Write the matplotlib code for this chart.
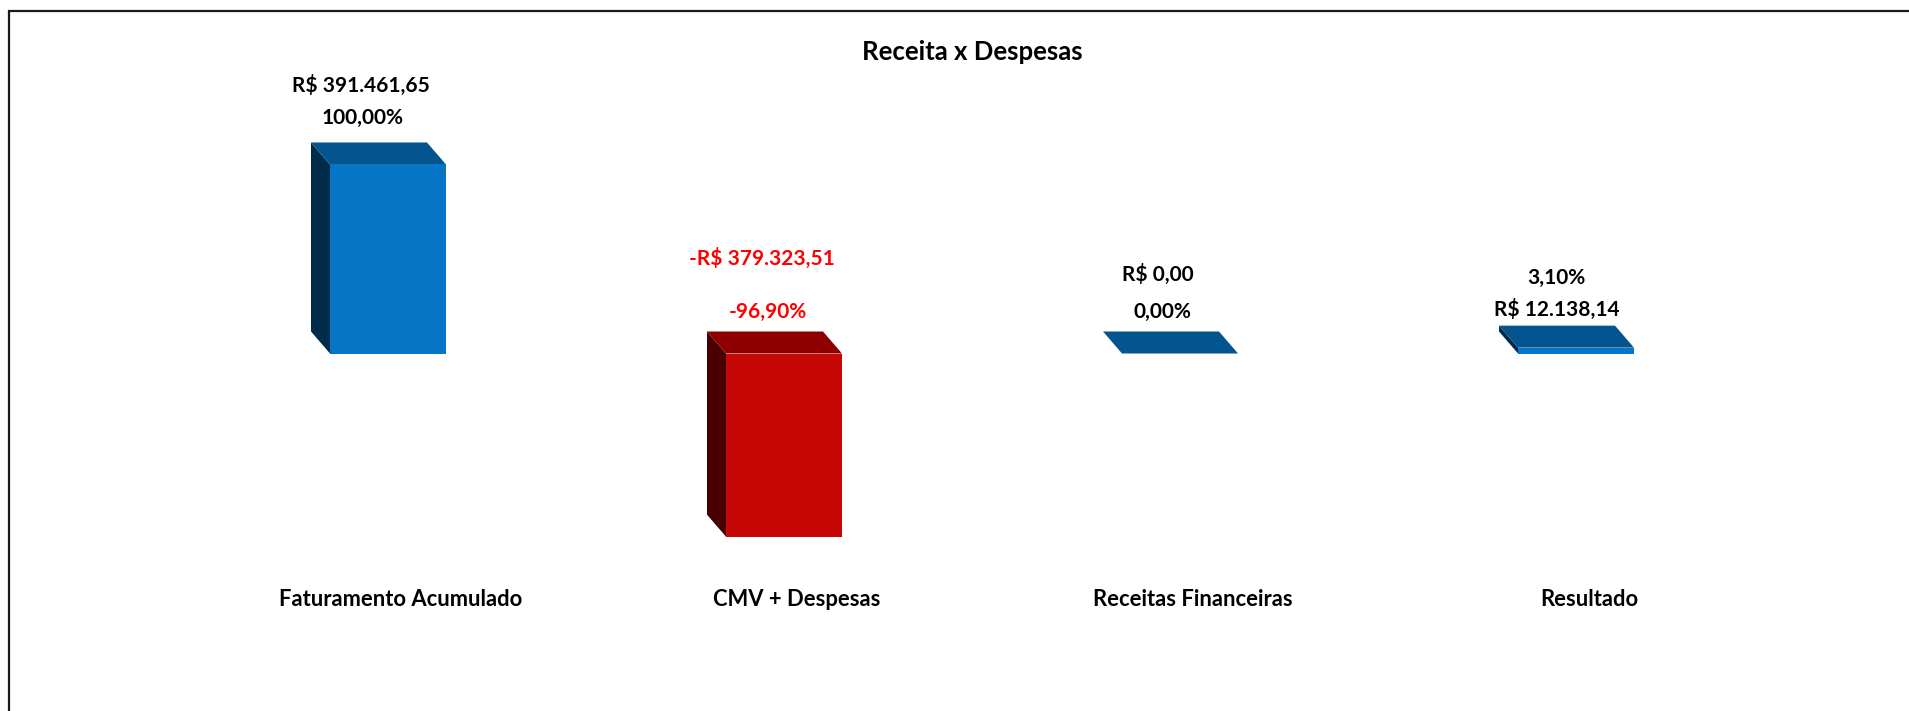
import numpy as np
import matplotlib
matplotlib.use("Agg")
import matplotlib.pyplot as plt
from matplotlib.patches import Polygon, Rectangle
from matplotlib.transforms import blended_transform_factory

plt.rcParams['font.family'] = ['Lato', 'DejaVu Sans']
plt.rcParams['font.weight'] = 'bold'

categorias = ['Faturamento Acumulado', 'CMV + Despesas', 'Receitas Financeiras', 'Resultado']
valores = [391461.65, -379323.51, 0.00, 12138.14]
titulo = 'Receita x Despesas'

# front / top / side colours per bar
cor_frente = ['#0675C6', '#C50806', '#0675C6', '#0675C6']
cor_topo = ['#04558F', '#8E0000', '#04558F', '#04558F']
cor_lado = ['#012B4B', '#4A0000', '#012B4B', '#012B4B']
cor_texto = ['black', '#FF0000', 'black', 'black']

# label offsets in pixels from (bar centre, bar top): [currency, percent]
off_moeda = [(-27, 79), (-22, 95), (-22, 79), (-19, 38)]
off_pct = [(-25, 46), (-16, 42), (-18, 42), (-20, 70)]


def brl(v, dec=2):
    s = f"{abs(v):,.{dec}f}".replace(',', 'X').replace('.', ',').replace('X', '.')
    return s


W, H, DPI = 1909, 711, 100
fig = plt.figure(figsize=(W / DPI, H / DPI), dpi=DPI)
ax = fig.add_axes([71.2 / W, 140.2 / H, 1821.6 / W, 434.6 / H])
ax.set_xlim(-0.8, 3.8)
ax.set_ylim(-450000, 450000)
ax.axis('off')

# depth of the 3d effect, pixels -> data units
px_x = 1821.6 / 4.6
px_y = 434.6 / 900000
dx = -19 / px_x
dy = 22 / px_y
largura = 116 / px_x

x = np.arange(len(categorias))
for i, v in enumerate(valores):
    y0, y1 = min(0, v), max(0, v)
    xl, xr = x[i] - largura / 2, x[i] + largura / 2
    lado = Polygon([(xl, y0), (xl, y1), (xl + dx, y1 + dy), (xl + dx, y0 + dy)],
                   closed=True, facecolor=cor_lado[i], edgecolor='none', zorder=1)
    topo = Polygon([(xl, y1), (xr, y1), (xr + dx, y1 + dy), (xl + dx, y1 + dy)],
                   closed=True, facecolor=cor_topo[i], edgecolor='none', zorder=1)
    ax.add_patch(lado)
    ax.add_patch(topo)

ax.bar(x, valores, width=largura, color=cor_frente, zorder=2)

receita = valores[0]
pt = 72 / DPI
for i, v in enumerate(valores):
    topo_y = max(0, v)
    sinal = '-' if v < 0 else ''
    txt_moeda = f"{sinal}R$ {brl(v)}"
    txt_pct = f"{sinal}{brl(abs(v) / receita * 100)}%"
    for txt, off in [(txt_moeda, off_moeda[i]), (txt_pct, off_pct[i])]:
        ax.annotate(txt, xy=(x[i], topo_y), xytext=(off[0] * pt, off[1] * pt),
                    textcoords='offset points', ha='center', va='center',
                    fontsize=15, fontweight='bold', color=cor_texto[i])

# category labels
trans = blended_transform_factory(ax.transData, fig.transFigure)
for i, c in enumerate(categorias):
    ax.text(x[i] + 13 / px_x, 1 - 600 / H, c, transform=trans, ha='center', va='center',
            fontsize=15.8, fontweight='bold', color='black')

fig.text(972 / W, 1 - 52 / H, titulo, ha='center', va='center',
         fontsize=18.5, fontweight='bold', color='black')

# chart border (extends past right and bottom edges)
fig.add_artist(Rectangle((9 / W, -0.1), 1.1, 1.1 - 11 / H, transform=fig.transFigure,
                         fill=False, edgecolor='#1a1a1a', linewidth=1.6))

fig.savefig('out.png', dpi=DPI)
